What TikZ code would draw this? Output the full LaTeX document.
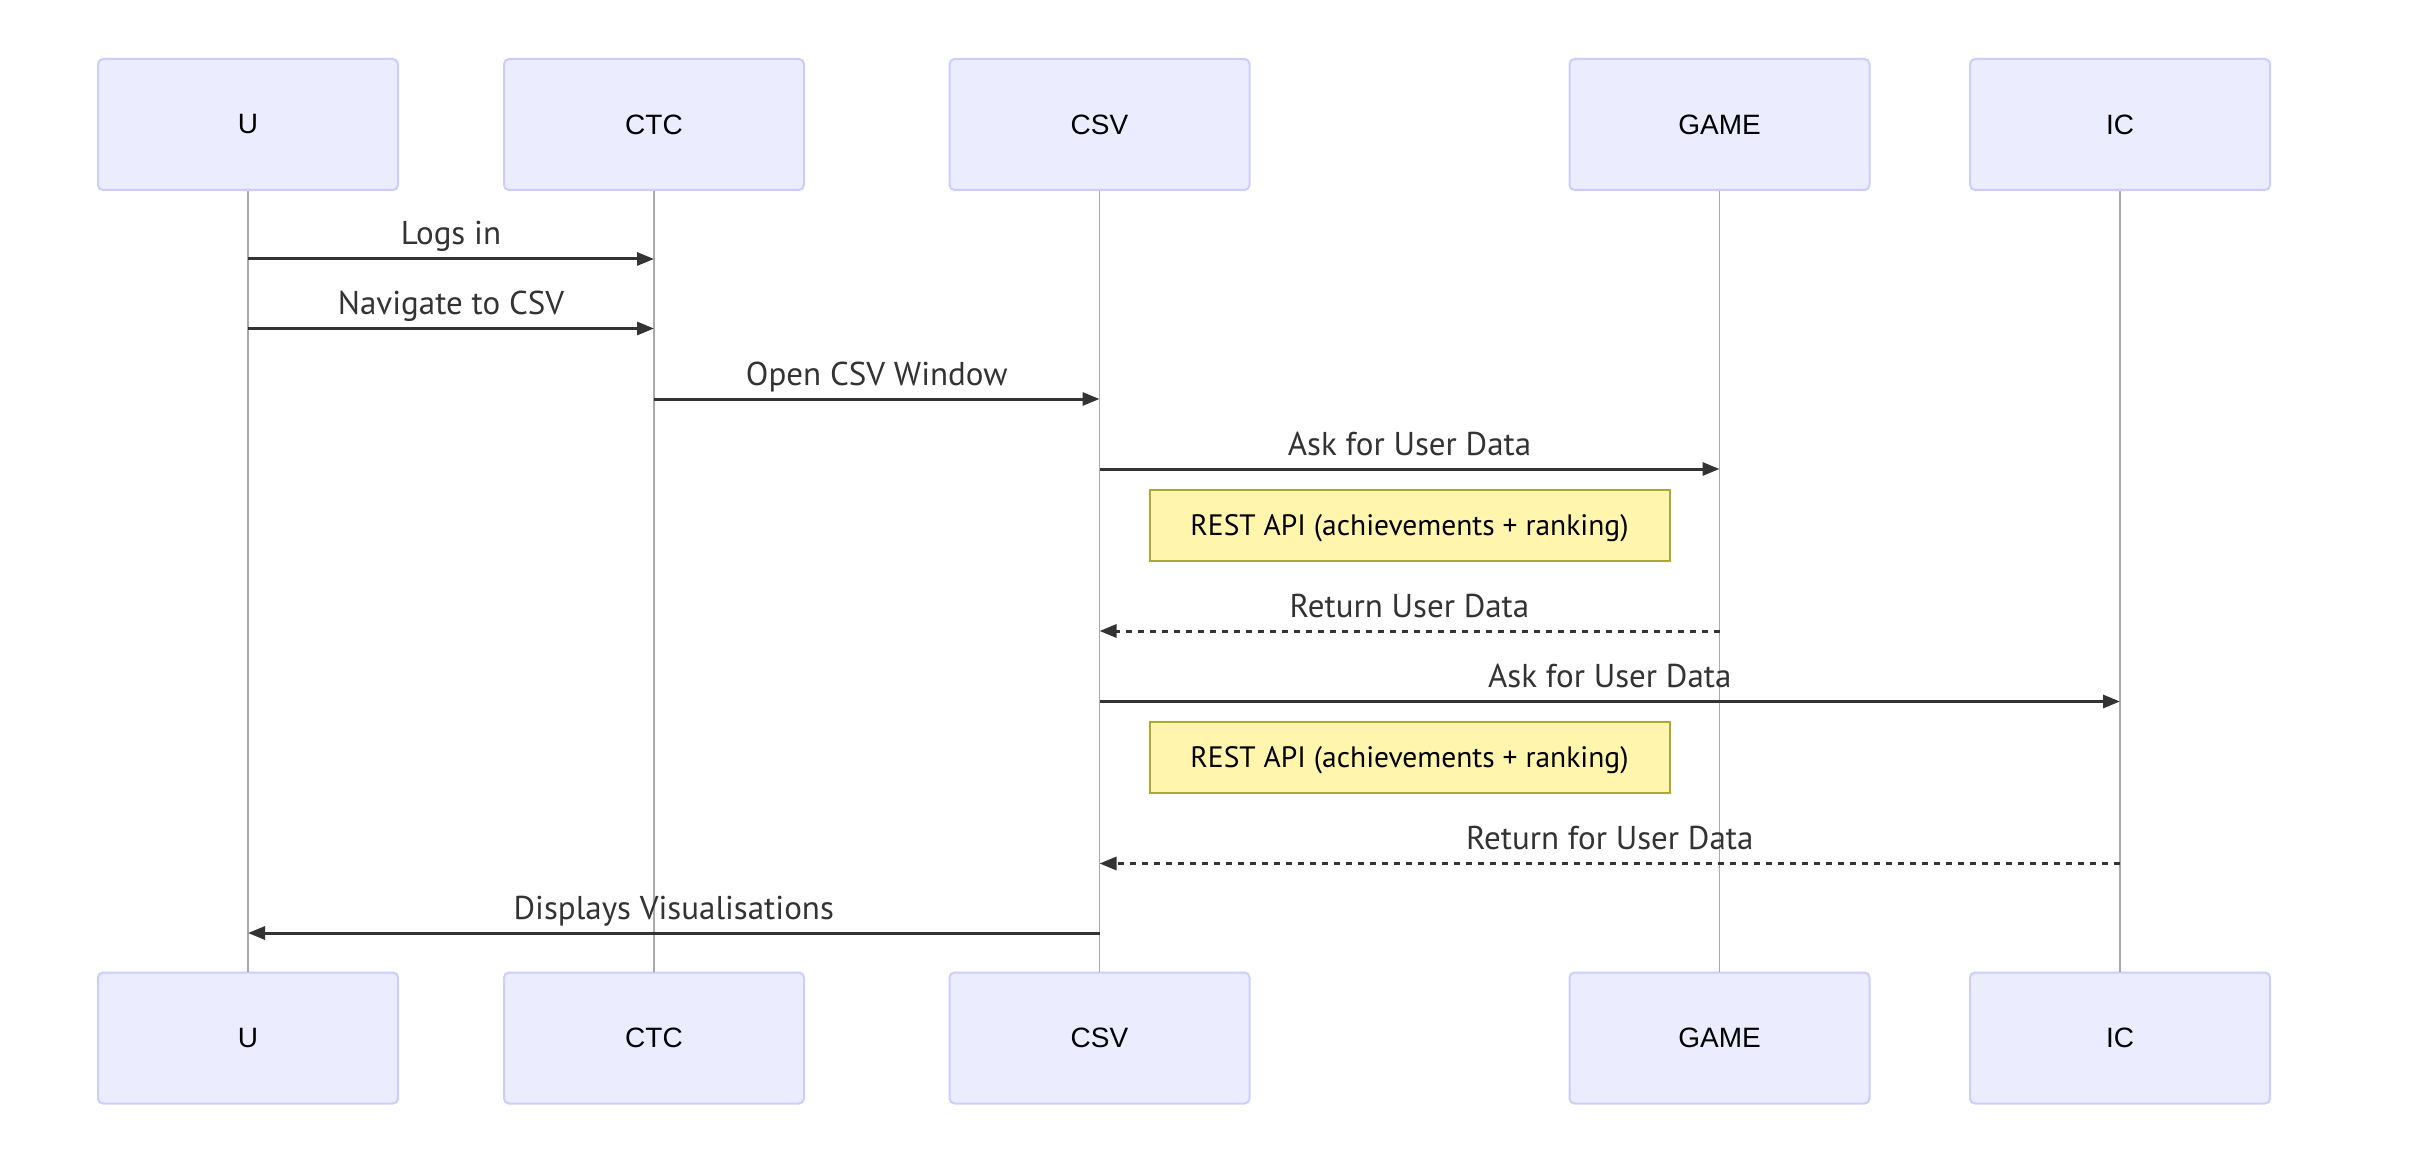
\documentclass[tikz,border=0pt]{standalone}
\usepackage{fontspec}
\usetikzlibrary{arrows.meta}
\newfontfamily\msgfont{PT Sans}
\newfontfamily\actfont{Liberation Sans}
\definecolor{actfill}{HTML}{ECECFF}
\definecolor{actline}{HTML}{CCCCFF}
\definecolor{notefill}{HTML}{FFF5AD}
\definecolor{noteline}{HTML}{AAAA33}
\definecolor{msgcol}{HTML}{333333}
\definecolor{lifecol}{HTML}{AAAAAA}
\tikzset{
  actor/.style={draw=actline, fill=actfill, line width=2pt, rounded corners=5pt,
    minimum width=300pt, minimum height=131pt, inner sep=0pt,
    font=\actfont\fontsize{28}{34}\selectfont, text=black},
  notebox/.style={draw=noteline, fill=notefill, line width=2pt,
    minimum width=520pt, minimum height=71pt, inner sep=0pt},
  notetext/.style={font=\msgfont\fontsize{29.5}{34}\selectfont, text=black, inner sep=0pt},
  lifeline/.style={draw=lifecol, line width=1.4pt},
  msg/.style={draw=msgcol, line width=3pt, -{Triangle[length=17pt,width=13pt]}},
  reply/.style={msg, dash pattern=on 6pt off 6pt},
  lbl/.style={anchor=base, font=\msgfont\fontsize{33}{40}\selectfont, text=msgcol, inner sep=0pt}
}
\begin{document}
\begin{tikzpicture}[x=1pt,y=-1pt]
\useasboundingbox (0,0) rectangle (2418,1166);
% actors
\foreach \n/\t/\x in {U/U/248, CTC/CTC/654, CSV/CSV/1099.5, GAME/GAME/1719.5, IC/IC/2120}{
  \node[actor] (\n T) at (\x,124.5) {\t};
  \node[actor] (\n B) at (\x,1038) {\t};
  \draw[lifeline] (\n T.south) -- (\n B.north);
}
% message anchor coordinates
\coordinate (u1) at (UT.south |- 0,259);   \coordinate (c1) at (CTCT.south |- 0,259);
\coordinate (u2) at (UT.south |- 0,328.5); \coordinate (c2) at (CTCT.south |- 0,328.5);
\coordinate (c3) at (CTCT.south |- 0,399); \coordinate (s3) at (CSVT.south |- 0,399);
\coordinate (s4) at (CSVT.south |- 0,469); \coordinate (g4) at (GAMET.south |- 0,469);
\coordinate (g6) at (GAMET.south |- 0,631); \coordinate (s6) at (CSVT.south |- 0,631);
\coordinate (s7) at (CSVT.south |- 0,701.5); \coordinate (i7) at (ICT.south |- 0,701.5);
\coordinate (i9) at (ICT.south |- 0,863.5); \coordinate (s9) at (CSVT.south |- 0,863.5);
\coordinate (s10) at (CSVT.south |- 0,933); \coordinate (u10) at (UT.south |- 0,933);
% messages
\draw[msg] (u1) -- (c1) node[lbl, midway, yshift=14pt] {Logs in};
\draw[msg] (u2) -- (c2) node[lbl, midway, yshift=14pt] {Navigate to CSV};
\draw[msg] (c3) -- (s3) node[lbl, midway, yshift=14pt] {Open CSV Window};
\draw[msg] (s4) -- (g4) node[lbl, midway, yshift=14pt] {Ask for User Data};
\node[notebox] (n1) at (1409.5,525.5) {};
\node[notetext] (n1t) at ([yshift=-3pt]n1.center) {REST API (achievements + ranking)};
\draw[reply] (g6) -- (s6) node[lbl, midway, yshift=14pt] {Return User Data};
\draw[msg] (s7) -- (i7) node[lbl, midway, yshift=14pt] {Ask for User Data};
\node[notebox] (n2) at (1409.5,757) {};
\node[notetext] (n2t) at ([yshift=-3pt]n2.center) {REST API (achievements + ranking)};
\draw[reply] (i9) -- (s9) node[lbl, midway, yshift=14pt] {Return for User Data};
\draw[msg] (s10) -- (u10) node[lbl, midway, yshift=14pt] {Displays Visualisations};
\end{tikzpicture}
\end{document}
